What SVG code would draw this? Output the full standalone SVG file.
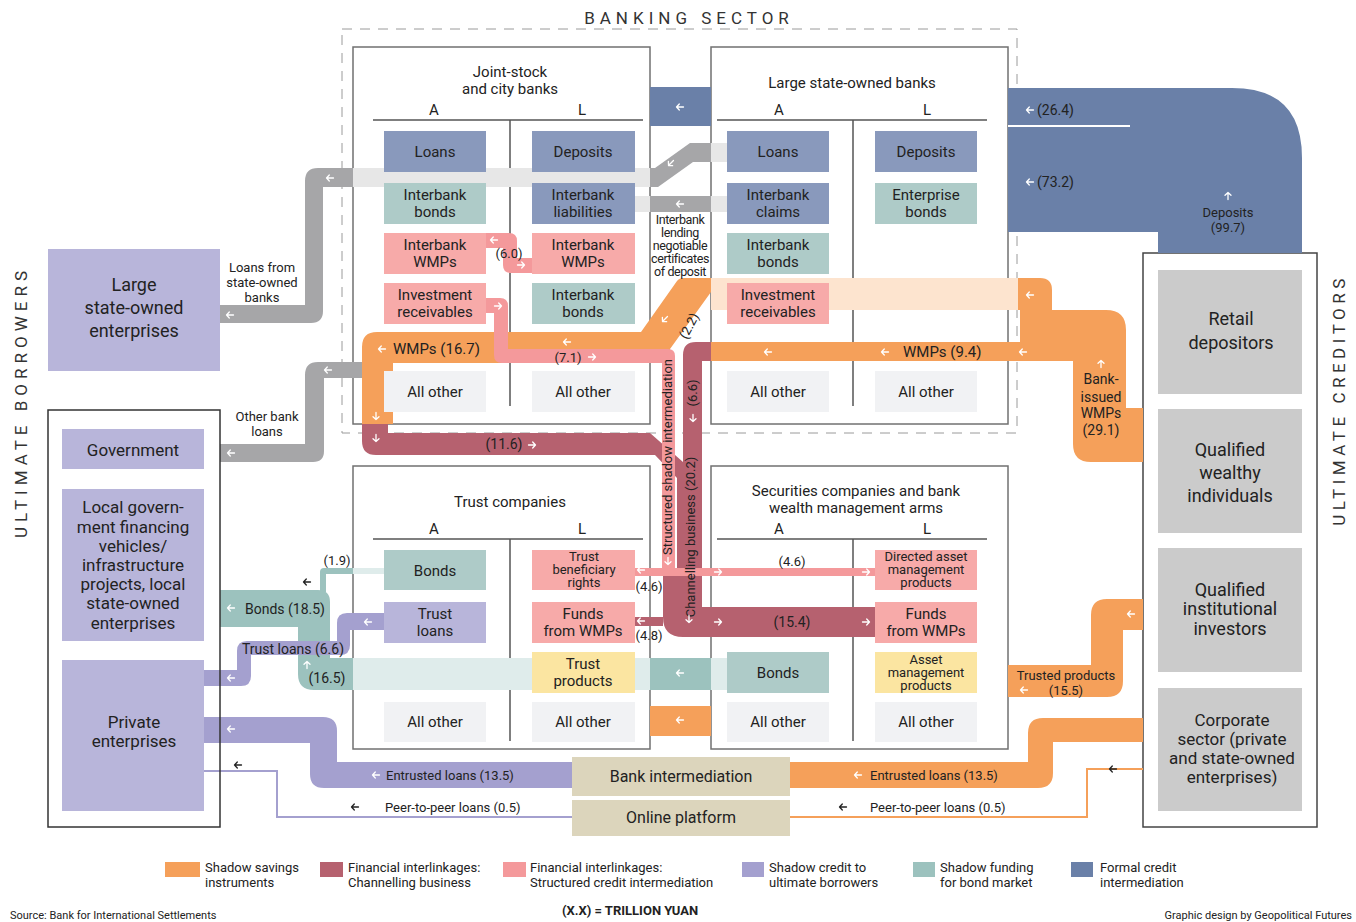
<svg xmlns="http://www.w3.org/2000/svg" width="1356" height="922" viewBox="0 0 1356 922">
<defs>
<style>
text{font-family:Roboto,'Liberation Sans',Arial,sans-serif;fill:#222}
.m{text-anchor:middle}
.s12{font-size:12.5px;letter-spacing:-0.4px}
.s13{font-size:13px}
.s14{font-size:14px}
.s15{font-size:15px}
.s17{font-size:17px}
.s18{font-size:18px}
.box{fill:#fff;stroke:#707070;stroke-width:1.5}
.obox{fill:none;stroke:#333;stroke-width:1.5}
.div{stroke:#555;stroke-width:1.5;fill:none}
.cb{fill:#8999bc}.ct{fill:#aecbc8}.cp{fill:#f7aaa9}.cl{fill:#b8b5da}.cy{fill:#fbe5a1}.co{fill:#f1f2f4}.cg{fill:#cbcbcb}.cz{fill:#dcd5bc}
.fo{fill:#f5a05a}.fc{fill:#b6616f}.fp{fill:#f4999b}.fl{fill:#a4a0cf}.ft{fill:#9cc2be}.fb{fill:#6a80a8}.fg{fill:#a6a6a8}
.fof{fill:#fde4cf}.fgf{fill:#e7e7e7}.ftf{fill:#dfeceb}
.aw{stroke:#fff;stroke-width:1.3;fill:none;stroke-linecap:round;stroke-linejoin:round}
.ak{stroke:#222;stroke-width:1.3;fill:none;stroke-linecap:round;stroke-linejoin:round}
.ttl{font-size:17px;fill:#333}
</style>
<path id="al" d="M3.5,0H-3.5M-0.7,-3L-3.5,0L-0.7,3"/>
</defs>
<rect width="1356" height="922" fill="#fff"/>

<g id="banking-sector">
<rect x="342" y="29" width="675" height="404" fill="none" stroke="#9a9a9a" stroke-dasharray="10 8"/>
<text x="689" y="24" class="m ttl" style="letter-spacing:5px">BANKING SECTOR</text>
</g>
<text transform="translate(27,402) rotate(-90)" class="m ttl" style="letter-spacing:5px">ULTIMATE BORROWERS</text>
<text transform="translate(1345,400) rotate(-90)" class="m ttl" style="letter-spacing:4.5px">ULTIMATE CREDITORS</text>

<g id="joint-stock-banks">
<rect class="box" x="353" y="47" width="297" height="377"/>
<text x="510" y="77" class="m s15">Joint-stock</text>
<text x="510" y="94" class="m s15">and city banks</text>
<text x="434" y="115" class="m s15">A</text><text x="582" y="115" class="m s15">L</text>
<path class="div" d="M373,120H643M510,120V406"/>
</g>
<g id="large-state-owned-banks">
<rect class="box" x="711" y="47" width="297" height="377"/>
<text x="852" y="88" class="m s15">Large state-owned banks</text>
<text x="779" y="115" class="m s15">A</text><text x="927" y="115" class="m s15">L</text>
<path class="div" d="M717,120H987M853,120V406"/>
</g>
<g id="trust-companies">
<rect class="box" x="353" y="466" width="297" height="283"/>
<text x="510" y="507" class="m s15">Trust companies</text>
<text x="434" y="534" class="m s15">A</text><text x="582" y="534" class="m s15">L</text>
<path class="div" d="M373,539H643M510,539V741"/>
</g>
<g id="securities-companies">
<rect class="box" x="711" y="466" width="297" height="283"/>
<text x="856" y="496" class="m s15">Securities companies and bank</text>
<text x="856" y="513" class="m s15">wealth management arms</text>
<text x="779" y="534" class="m s15">A</text><text x="927" y="534" class="m s15">L</text>
<path class="div" d="M717,539H987M853,539V741"/>
</g>
<g id="ultimate-creditors">
<rect x="1143" y="253" width="174" height="574" fill="#fff" stroke="#444" stroke-width="1.5"/>
</g>

<g id="connectors">
<path class="fb" d="M1008,88H1232Q1302,88 1302,158V253H1158V232H1008Z"/>
<rect class="fb" x="650" y="87" width="61" height="39"/>
<line x1="1008" y1="126" x2="1130" y2="126" stroke="#fff" stroke-width="2"/>
<path class="fg" d="M353,168H318Q305,168 305,181V305H220V323H311Q323,323 323,311V187H353Z"/>
<path class="fg" d="M711,143H690L655,168H650V187H658L693,162H711Z"/>
<rect class="fgf" x="353" y="168" width="297" height="19"/>
<rect class="fgf" x="711" y="143" width="16" height="19"/>
<rect class="fg" x="650" y="196" width="61" height="16"/>
<rect class="fgf" x="635" y="196" width="15" height="16"/>
<rect class="fgf" x="711" y="196" width="16" height="16"/>
<path class="fg" d="M362,362H318Q305,362 305,375V444H220V462H313Q324,462 324,451V378H362Z"/>
<path class="ft" d="M220,590H318Q330,590 330,602V658H353V690H314Q298,690 298,674V627H220Z"/>
<rect class="ftf" x="353" y="658" width="297" height="32"/>
<rect class="ft" x="650" y="658" width="61" height="32"/>
<rect class="ftf" x="711" y="658" width="16" height="32"/>
<path class="ft" d="M353,568H324Q320,568 320,572V592H326V574H353Z"/>
<rect class="ftf" x="353" y="568" width="31" height="6"/>
<path class="fl" d="M384,613H347Q337,613 337,623V641H247Q237,641 237,651V670H204V686H241Q251,686 251,676V655H340Q350,655 350,645V630H384Z"/>
<path class="fl" d="M204,717H323Q337,717 337,731V762H572V788H324Q310,788 310,774V743H204Z"/>
<polyline points="572,817 277,817 277,771 204,771" fill="none" stroke="#a4a0cf" stroke-width="2"/>
<path class="fo" d="M1018,278H1040Q1052,278 1052,290V310H1106Q1126,310 1126,330V408H1143V462H1091Q1073,462 1073,444V361H1008V342H1020V310H1018Z"/>
<rect class="fof" x="711" y="278" width="307" height="32"/>
<rect class="fo" x="711" y="342" width="297" height="19"/>
<path class="fo" d="M711,278V292L670,349L668,363H393V424H362V347Q362,332 377,332H641L677,281Q679,278 684,278Z"/>
<rect class="fo" x="650" y="706" width="61" height="30"/>
<path class="fo" d="M1143,599H1107Q1091,599 1091,615V665H1008V697H1107Q1123,697 1123,681V630H1143Z"/>
<path class="fo" d="M790,762H1028V733Q1028,718 1043,718H1143V742H1053V773Q1053,788 1038,788H790Z"/>
<polyline points="790,817 1087,817 1087,769 1143,769" fill="none" stroke="#f5a05a" stroke-width="2"/>
<path class="fc" d="M711,342V361H702V607H876V637H683Q663,637 663,617V568H677V478L655,455H376Q362,455 362,441V424H388V433H650L683,462V355Q683,342 696,342Z"/>
<rect class="fc" x="635" y="617" width="28" height="9"/>
<path class="fp" d="M486,233H509Q517,233 517,241V258H533V273H511Q503,273 503,265V248H486Z"/>
<path class="fp" d="M486,298H500Q508,298 508,306V349H668Q675,349 675,356V568H662V363H502Q494,363 494,355V313H486Z"/>
<rect class="fp" x="635" y="568" width="240" height="8"/>
</g>

<g id="node-lsoe"><rect class="cl" x="48" y="249" width="172" height="122"/>
<text x="134" y="291" class="m s18">Large</text><text x="134" y="314" class="m s18">state-owned</text><text x="134" y="337" class="m s18">enterprises</text></g>
<g id="node-government"><rect class="cl" x="62" y="429" width="142" height="40"/><text x="133" y="456" class="m s17">Government</text></g>
<g id="node-local-government"><rect class="cl" x="62" y="489" width="142" height="152"/>
<text x="133" y="513" class="m s17">Local govern-</text><text x="133" y="533" class="m s17">ment financing</text><text x="133" y="552" class="m s17">vehicles/</text><text x="133" y="571" class="m s17">infrastructure</text><text x="133" y="590" class="m s17">projects, local</text><text x="133" y="609" class="m s17">state-owned</text><text x="133" y="629" class="m s17">enterprises</text></g>
<g id="node-private"><rect class="cl" x="62" y="660" width="142" height="151"/><text x="134" y="728" class="m s17">Private</text><text x="134" y="747" class="m s17">enterprises</text></g>
<rect class="obox" x="48" y="410" width="172" height="417"/>

<g id="node-retail"><rect class="cg" x="1158" y="270" width="144" height="124"/><text x="1231" y="325" class="m s18">Retail</text><text x="1231" y="349" class="m s18">depositors</text></g>
<g id="node-qwi"><rect class="cg" x="1158" y="409" width="144" height="124"/><text x="1230" y="456" class="m s18">Qualified</text><text x="1230" y="479" class="m s18">wealthy</text><text x="1230" y="502" class="m s18">individuals</text></g>
<g id="node-qii"><rect class="cg" x="1158" y="548" width="144" height="124"/><text x="1230" y="596" class="m s18">Qualified</text><text x="1230" y="615" class="m s18">institutional</text><text x="1230" y="635" class="m s18">investors</text></g>
<g id="node-corporate"><rect class="cg" x="1158" y="688" width="144" height="123"/><text x="1232" y="726" class="m s17">Corporate</text><text x="1232" y="745" class="m s17">sector (private</text><text x="1232" y="764" class="m s17">and state-owned</text><text x="1232" y="783" class="m s17">enterprises)</text></g>

<g id="node-bank-intermediation"><rect class="cz" x="572" y="757" width="218" height="39"/><text x="681" y="782" class="m" style="font-size:16px">Bank intermediation</text></g>
<g id="node-online-platform"><rect class="cz" x="572" y="800" width="218" height="36"/><text x="681" y="823" class="m" style="font-size:16px">Online platform</text></g>

<g id="js-loans"><rect class="cb" x="384" y="131" width="102" height="41"/><text x="435" y="157" class="m s15">Loans</text></g>
<g id="js-deposits"><rect class="cb" x="532" y="131" width="103" height="41"/><text x="583" y="157" class="m s15">Deposits</text></g>
<g id="js-interbank-bonds-a"><rect class="ct" x="384" y="183" width="102" height="41"/><text x="435" y="200" class="m s15">Interbank</text><text x="435" y="217" class="m s15">bonds</text></g>
<g id="js-interbank-liabilities"><rect class="cb" x="532" y="183" width="103" height="41"/><text x="583" y="200" class="m s15">Interbank</text><text x="583" y="217" class="m s15">liabilities</text></g>
<g id="js-interbank-wmps-a"><rect class="cp" x="384" y="233" width="102" height="41"/><text x="435" y="250" class="m s15">Interbank</text><text x="435" y="267" class="m s15">WMPs</text></g>
<g id="js-interbank-wmps-l"><rect class="cp" x="532" y="233" width="103" height="41"/><text x="583" y="250" class="m s15">Interbank</text><text x="583" y="267" class="m s15">WMPs</text></g>
<g id="js-investment-receivables"><rect class="cp" x="384" y="283" width="102" height="41"/><text x="435" y="300" class="m s15">Investment</text><text x="435" y="317" class="m s15">receivables</text></g>
<g id="js-interbank-bonds-l"><rect class="ct" x="532" y="283" width="103" height="41"/><text x="583" y="300" class="m s15">Interbank</text><text x="583" y="317" class="m s15">bonds</text></g>
<g id="js-other-a"><rect class="co" x="384" y="371" width="102" height="41"/><text x="435" y="397" class="m s15">All other</text></g>
<g id="js-other-l"><rect class="co" x="532" y="371" width="103" height="41"/><text x="583" y="397" class="m s15">All other</text></g>

<g id="lso-loans"><rect class="cb" x="727" y="131" width="102" height="41"/><text x="778" y="157" class="m s15">Loans</text></g>
<g id="lso-deposits"><rect class="cb" x="875" y="131" width="102" height="41"/><text x="926" y="157" class="m s15">Deposits</text></g>
<g id="lso-interbank-claims"><rect class="cb" x="727" y="183" width="102" height="41"/><text x="778" y="200" class="m s15">Interbank</text><text x="778" y="217" class="m s15">claims</text></g>
<g id="lso-enterprise-bonds"><rect class="ct" x="875" y="183" width="102" height="41"/><text x="926" y="200" class="m s15">Enterprise</text><text x="926" y="217" class="m s15">bonds</text></g>
<g id="lso-interbank-bonds"><rect class="ct" x="727" y="233" width="102" height="41"/><text x="778" y="250" class="m s15">Interbank</text><text x="778" y="267" class="m s15">bonds</text></g>
<g id="lso-investment-receivables"><rect class="cp" x="727" y="283" width="102" height="41"/><text x="778" y="300" class="m s15">Investment</text><text x="778" y="317" class="m s15">receivables</text></g>
<g id="lso-other-a"><rect class="co" x="727" y="371" width="102" height="41"/><text x="778" y="397" class="m s15">All other</text></g>
<g id="lso-other-l"><rect class="co" x="875" y="371" width="102" height="41"/><text x="926" y="397" class="m s15">All other</text></g>

<g id="tr-bonds"><rect class="ct" x="384" y="550" width="102" height="40"/><text x="435" y="576" class="m s15">Bonds</text></g>
<g id="tr-beneficiary-rights"><rect class="cp" x="532" y="550" width="103" height="40"/><text x="584" y="561" class="m s13">Trust</text><text x="584" y="574" class="m s13">beneficiary</text><text x="584" y="587" class="m s13">rights</text></g>
<g id="tr-loans"><rect class="cl" x="384" y="602" width="102" height="41"/><text x="435" y="619" class="m s15">Trust</text><text x="435" y="636" class="m s15">loans</text></g>
<g id="tr-funds-wmps"><rect class="cp" x="532" y="602" width="103" height="41"/><text x="583" y="619" class="m s15">Funds</text><text x="583" y="636" class="m s15">from WMPs</text></g>
<g id="tr-products"><rect class="cy" x="532" y="652" width="103" height="41"/><text x="583" y="669" class="m s15">Trust</text><text x="583" y="686" class="m s15">products</text></g>
<g id="tr-other-a"><rect class="co" x="384" y="702" width="102" height="40"/><text x="435" y="727" class="m s15">All other</text></g>
<g id="tr-other-l"><rect class="co" x="532" y="702" width="103" height="40"/><text x="583" y="727" class="m s15">All other</text></g>

<g id="sec-directed-amp"><rect class="cp" x="875" y="550" width="102" height="40"/><text x="926" y="561" class="m s13">Directed asset</text><text x="926" y="574" class="m s13">management</text><text x="926" y="587" class="m s13">products</text></g>
<g id="sec-funds-wmps"><rect class="cp" x="875" y="602" width="102" height="41"/><text x="926" y="619" class="m s15">Funds</text><text x="926" y="636" class="m s15">from WMPs</text></g>
<g id="sec-bonds"><rect class="ct" x="727" y="652" width="102" height="41"/><text x="778" y="678" class="m s15">Bonds</text></g>
<g id="sec-amp"><rect class="cy" x="875" y="652" width="102" height="41"/><text x="926" y="664" class="m s13">Asset</text><text x="926" y="677" class="m s13">management</text><text x="926" y="690" class="m s13">products</text></g>
<g id="sec-other-a"><rect class="co" x="727" y="702" width="102" height="40"/><text x="778" y="727" class="m s15">All other</text></g>
<g id="sec-other-l"><rect class="co" x="875" y="702" width="102" height="40"/><text x="926" y="727" class="m s15">All other</text></g>

<g id="flow-labels">
<text x="1037" y="115" class="s14">(26.4)</text>
<text x="1037" y="187" class="s14">(73.2)</text>
<text x="1228" y="217" class="m s13">Deposits</text><text x="1228" y="232" class="m s13">(99.7)</text>
<text x="1101" y="384" class="m s14">Bank-</text><text x="1101" y="402" class="m s14">issued</text><text x="1101" y="418" class="m s14">WMPs</text><text x="1101" y="435" class="m s14">(29.1)</text>
<text x="393" y="354" class="s15">WMPs (16.7)</text>
<text x="903" y="357" class="s15">WMPs (9.4)</text>
<text x="509" y="258" class="m s13">(6.0)</text>
<text x="568" y="362" class="m s13">(7.1)</text>
<text x="504" y="449" class="m s14">(11.6)</text>
<text transform="translate(693,328) rotate(-62)" class="m s13">(2.2)</text>
<text transform="translate(697,393) rotate(-90)" class="m s13">(6.6)</text>
<text transform="translate(672,457) rotate(-90)" class="m s13">Structured shadow intermediation</text>
<text transform="translate(695,537) rotate(-90)" class="m s13">Channelling business (20.2)</text>
<text x="649" y="591" class="m s13">(4.6)</text>
<text x="649" y="640" class="m s13">(4.8)</text>
<text x="792" y="566" class="m s13">(4.6)</text>
<text x="792" y="627" class="m s14">(15.4)</text>
<text x="262" y="272" class="m s13">Loans from</text><text x="262" y="287" class="m s13">state-owned</text><text x="262" y="302" class="m s13">banks</text>
<text x="267" y="421" class="m s13">Other bank</text><text x="267" y="436" class="m s13">loans</text>
<text x="680" y="224" class="m s12">Interbank</text><text x="680" y="237" class="m s12">lending</text><text x="680" y="250" class="m s12">negotiable</text><text x="680" y="263" class="m s12">certificates</text><text x="680" y="276" class="m s12">of deposit</text>
<text x="337" y="565" class="m s13">(1.9)</text>
<text x="285" y="614" class="m s14">Bonds (18.5)</text>
<text x="293" y="654" class="m s14">Trust loans (6.6)</text>
<text x="327" y="683" class="m s14">(16.5)</text>
<text x="1066" y="680" class="m s13">Trusted products</text><text x="1066" y="695" class="m s13">(15.5)</text>
<text x="386" y="780" class="s13">Entrusted loans (13.5)</text>
<text x="870" y="780" class="s13">Entrusted loans (13.5)</text>
<text x="385" y="812" class="s13">Peer-to-peer loans (0.5)</text>
<text x="870" y="812" class="s13">Peer-to-peer loans (0.5)</text>
</g>

<g id="arrows">
<use href="#al" class="aw" transform="translate(680,107)"/>
<use href="#al" class="aw" transform="translate(1030,110)"/>
<use href="#al" class="aw" transform="translate(1030,182)"/>
<use href="#al" class="aw" transform="translate(330,178)"/>
<use href="#al" class="aw" transform="translate(230,315)"/>
<use href="#al" class="aw" transform="translate(680,204)"/>
<use href="#al" class="aw" transform="translate(328,370)"/>
<use href="#al" class="aw" transform="translate(231,453)"/>
<use href="#al" class="aw" transform="translate(382,349)"/>
<use href="#al" class="aw" transform="translate(567,342)"/>
<use href="#al" class="aw" transform="translate(768,352)"/>
<use href="#al" class="aw" transform="translate(885,352)"/>
<use href="#al" class="aw" transform="translate(1023,352)"/>
<use href="#al" class="aw" transform="translate(1030,295)"/>
<use href="#al" class="aw" transform="translate(494,240)"/>
<use href="#al" class="aw" transform="translate(368,622)"/>
<use href="#al" class="aw" transform="translate(231,678)"/>
<use href="#al" class="aw" transform="translate(231,608)"/>
<use href="#al" class="ak" transform="translate(307,582)"/>
<use href="#al" class="aw" transform="translate(680,673)"/>
<use href="#al" class="aw" transform="translate(680,720)"/>
<use href="#al" class="aw" transform="translate(1131,614)"/>
<use href="#al" class="aw" transform="translate(1024,690)"/>
<use href="#al" class="aw" transform="translate(231,729)"/>
<use href="#al" class="aw" transform="translate(376,775)"/>
<use href="#al" class="aw" transform="translate(858,775)"/>
<use href="#al" class="ak" transform="translate(238,765)"/>
<use href="#al" class="ak" transform="translate(355,807)"/>
<use href="#al" class="ak" transform="translate(843,807)"/>
<use href="#al" class="ak" transform="translate(1113,769)"/>
<use href="#al" class="aw" transform="translate(641,570)"/>
<use href="#al" class="aw" transform="translate(641,621)"/>
<use href="#al" class="aw" transform="translate(521,265) rotate(180)"/>
<use href="#al" class="aw" transform="translate(592,357) rotate(180)"/>
<use href="#al" class="aw" transform="translate(532,445) rotate(180)"/>
<use href="#al" class="aw" transform="translate(498,306) rotate(180)"/>
<use href="#al" class="aw" transform="translate(718,572) rotate(180)"/>
<use href="#al" class="aw" transform="translate(866,572) rotate(180)"/>
<use href="#al" class="aw" transform="translate(718,622) rotate(180)"/>
<use href="#al" class="aw" transform="translate(866,622) rotate(180)"/>
<use href="#al" class="aw" transform="translate(376,416) rotate(-90)"/>
<use href="#al" class="aw" transform="translate(376,438) rotate(-90)"/>
<use href="#al" class="aw" transform="translate(693,418) rotate(-90)"/>
<use href="#al" class="aw" transform="translate(668,561) rotate(-90)"/>
<use href="#al" class="aw" transform="translate(689,619) rotate(-90)"/>
<use href="#al" class="aw" transform="translate(1228,196) rotate(90)"/>
<use href="#al" class="aw" transform="translate(1101,364) rotate(90)"/>
<use href="#al" class="aw" transform="translate(307,665) rotate(90)"/>
<use href="#al" class="aw" transform="translate(671,163) rotate(-45)"/>
<use href="#al" class="aw" transform="translate(665,319) rotate(-45)"/>
</g>

<g id="legend">
<rect class="fo" x="165" y="862" width="35" height="15"/><text x="205" y="872" class="s13">Shadow savings</text><text x="205" y="887" class="s13">instruments</text>
<rect class="fc" x="320" y="862" width="23" height="15"/><text x="348" y="872" class="s13">Financial interlinkages:</text><text x="348" y="887" class="s13">Channelling business</text>
<rect class="fp" x="503" y="862" width="23" height="15"/><text x="530" y="872" class="s13">Financial interlinkages:</text><text x="530" y="887" class="s13">Structured credit intermediation</text>
<rect class="fl" x="742" y="862" width="22" height="15"/><text x="769" y="872" class="s13">Shadow credit to</text><text x="769" y="887" class="s13">ultimate borrowers</text>
<rect class="ft" x="913" y="862" width="22" height="15"/><text x="940" y="872" class="s13">Shadow funding</text><text x="940" y="887" class="s13">for bond market</text>
<rect class="fb" x="1071" y="862" width="22" height="15"/><text x="1100" y="872" class="s13">Formal credit</text><text x="1100" y="887" class="s13">intermediation</text>
<text x="630" y="915" class="m s13" style="font-weight:bold">(X.X) = TRILLION YUAN</text>
<text x="10" y="919" style="font-size:11px">Source: Bank for International Settlements</text>
<text x="1352" y="919" style="font-size:11px;text-anchor:end">Graphic design by Geopolitical Futures</text>
</g>
</svg>
